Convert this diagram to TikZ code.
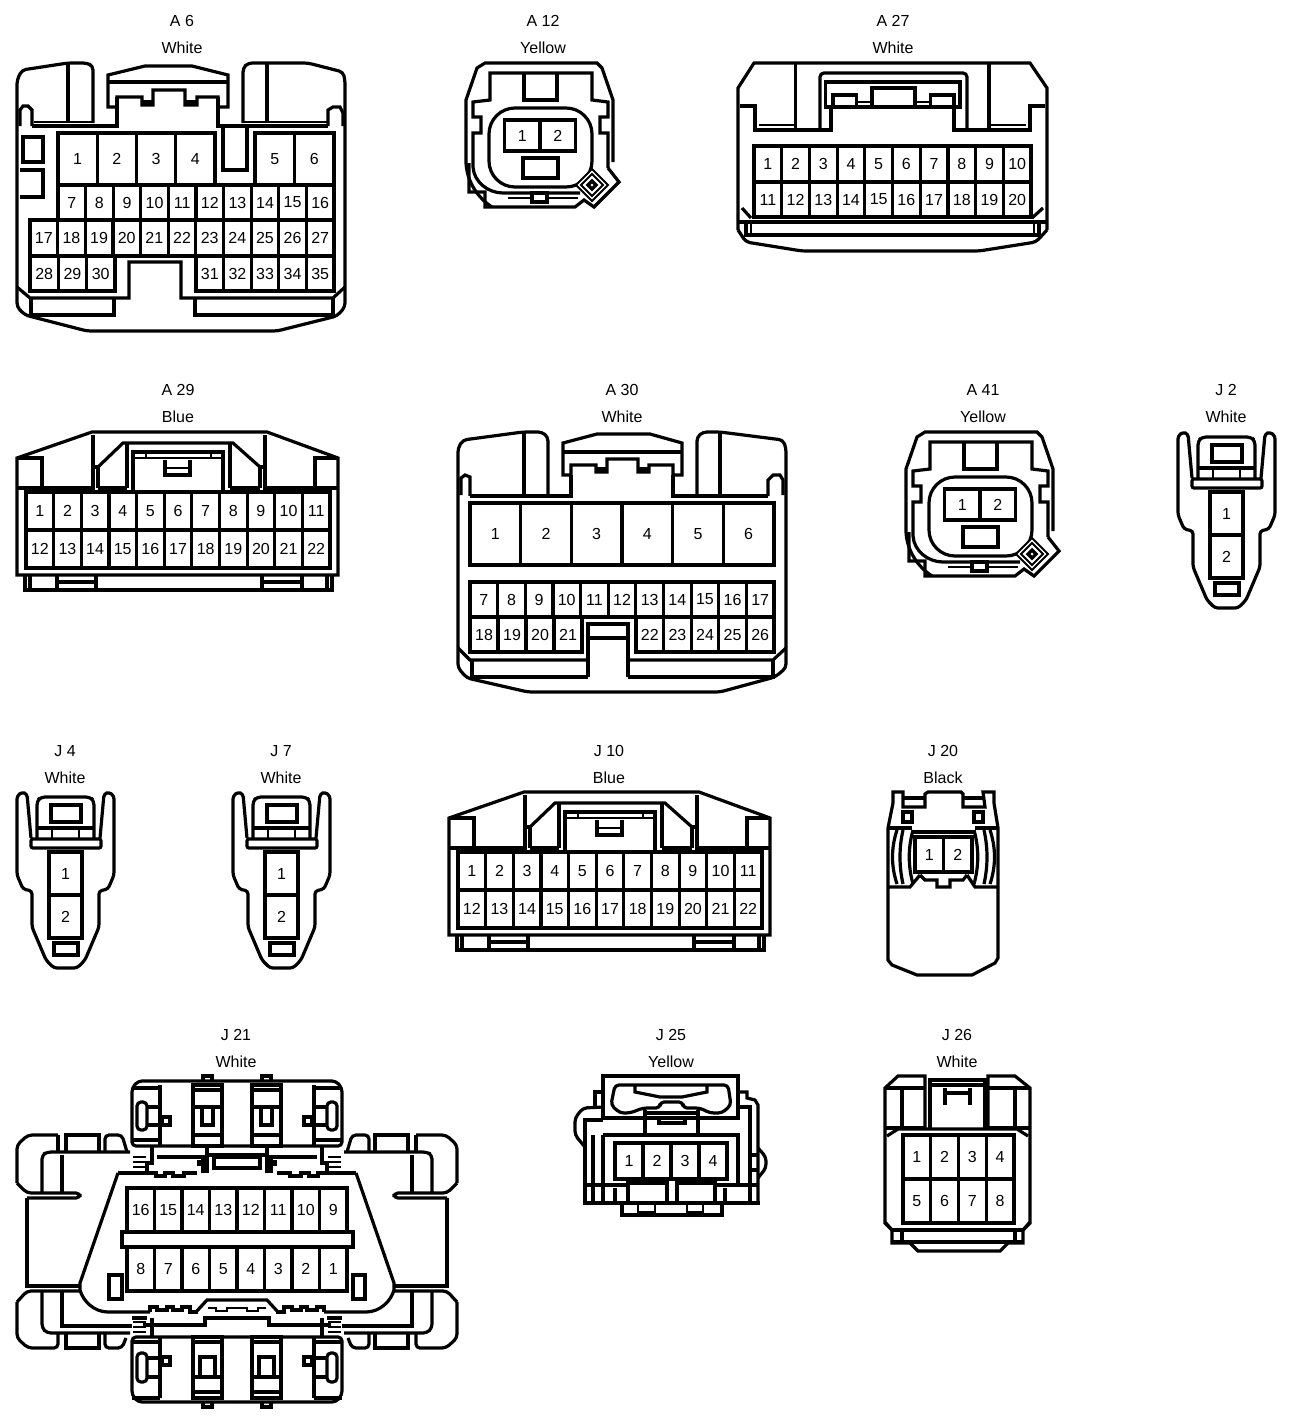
\documentclass[tikz,border=0pt]{standalone}
\usepackage{fontspec}
\setmainfont{Liberation Sans}
\usetikzlibrary{positioning}
\tikzstyle{edge} = [line width = 3.2pt, miter limit = 2]
\tikzstyle{thin edge} = [line width = 2pt, miter limit = 2]
\tikzstyle{round edge} = [edge, rounded corners = 4pt]
\tikzstyle{pin label} = [inner sep = 0, font = \fontsize{16}{16}\selectfont]
\tikzstyle{title} = [inner sep = 0, font = \fontsize{16}{16}\selectfont]

\newcommand{\connlabel}[5]{
    \node [title] (#1name) at (#2, {#3 + 1}) {#4};
    \node [title, below = 27pt of #1name.center, anchor = center] (#1col) {#5};
}
\newcommand{\pinrow}[6]{
    \foreach \b [count = \k from 0] in {#6}
    {
        \pgfmathsetmacro{\xl}{#4 + \k * #5}
        \pgfmathsetmacro{\xr}{#4 + (\k + 1) * #5}
        \draw [edge] (\xl, #2) rectangle (\xr, #3)
            node [midway, pin label] (#1p\b) {\b};
    }
}
\newcommand{\ovalbody}[1]{
    \draw [edge] (613, 162) -- (613, 100) -- (602, 68) -- (597, 63) -- (485, 63) -- (477, 68) -- (466, 100) -- (466, 163)
        .. controls (467, 182) and (478, 198) .. (492, 207);
    \draw [edge] (469, 163) -- (469, 192) -- (485, 192) -- (485, 207) -- (575, 207) -- (584, 200) -- (594, 207)
        -- (619, 182) -- (608, 168);
    \draw [edge] (608, 168) -- (608, 133) -- (600, 133) -- (600, 117) -- (608, 117) -- (608, 102) -- (592, 100)
        -- (592, 73) -- (490, 73) -- (490, 100) -- (473, 102) -- (473, 117) -- (481, 117) -- (481, 133) -- (473, 133) -- (473, 167)
        .. controls (474, 182) and (488, 193) .. (503, 193) -- (580, 193);
    \draw [thin edge] (508, 198) -- (578, 198);
    \draw [edge] (524, 73) -- (524, 100) -- (557, 100) -- (557, 73);
    \draw [edge, rounded corners = 26pt] (489, 108) rectangle (592, 187);
    \draw [edge, fill = white] (532, 193) rectangle (547, 202);
    \draw [edge] (523, 158) rectangle (558, 178);
    \draw [thin edge, fill = white] (592, 169) -- (608, 185) -- (592, 201) -- (576, 185) -- cycle;
    \draw [thin edge] (592, 174) -- (603, 185) -- (592, 196) -- (581, 185) -- cycle;
    \draw [edge] (592, 181) -- (596, 185) -- (592, 189) -- (588, 185) -- cycle;
    \pinrow{#1}{120}{151}{504.5}{35.5}{1, 2}
}
\newcommand{\latchbody}[1]{
    \draw [edge, rounded corners = 3pt] (1192, 478) -- (1188, 434) -- (1183, 432) -- (1178, 436) -- (1178, 515)
        -- (1184, 529) -- (1193, 531) -- (1193, 567) -- (1207, 600) -- (1215, 608) -- (1238, 608) -- (1246, 600)
        -- (1260, 567) -- (1260, 531) -- (1269, 529) -- (1275, 515) -- (1275, 436) -- (1270, 432) -- (1265, 434) -- (1261, 478);
    \draw [round edge] (1198, 478) -- (1198, 441) -- (1202, 437) -- (1251, 437) -- (1255, 441) -- (1255, 478);
    \draw [edge, rounded corners = 2pt] (1192, 479) -- (1192, 488) -- (1262, 488) -- (1262, 479) -- cycle;
    \draw [edge] (1198, 468) -- (1255, 468);
    \draw [edge] (1212, 445) rectangle (1242, 462);
    \draw [thin edge] (1213, 470) -- (1213, 479);
    \draw [thin edge] (1240, 470) -- (1240, 479);
    \draw [edge] (1215, 583) rectangle (1239, 595);
    \draw [edge] (1210, 492) rectangle (1243, 535) node [midway, pin label] (#1p1) {1};
    \draw [edge] (1210, 535) rectangle (1243, 578) node [midway, pin label] (#1p2) {2};
}
\newcommand{\slotbody}[1]{
    \draw [edge] (17, 575) -- (17, 458) -- (92, 432) -- (267, 432) -- (338, 458) -- (338, 575) -- cycle;
    \draw [edge] (17, 458) -- (42, 458) -- (42, 488);
    \draw [edge] (338, 458) -- (315, 458) -- (315, 488);
    \draw [edge] (17, 488) -- (93, 488) -- (93, 435);
    \draw [edge] (338, 488) -- (265, 488) -- (265, 435);
    \draw [edge] (98, 488) -- (98, 467) -- (93, 467);
    \draw [edge] (260, 488) -- (260, 467) -- (265, 467);
    \draw [edge] (98, 467) -- (123, 443) -- (233, 443) -- (260, 467);
    \draw [edge] (127, 443) -- (127, 488);
    \draw [edge] (230, 443) -- (230, 488);
    \draw [edge] (98, 488) -- (127, 488);
    \draw [edge] (230, 488) -- (260, 488);
    \draw [edge] (133, 490) -- (133, 452) -- (223, 452) -- (223, 490);
    \draw [thin edge] (133, 458) -- (223, 458);
    \draw [thin edge] (146, 452) -- (146, 458);
    \draw [thin edge] (211, 452) -- (211, 458);
    \draw [edge] (165, 460) -- (165, 475) -- (190, 475) -- (190, 460);
    \draw [thin edge] (165, 468) -- (190, 468);
    \pinrow{#1}{492}{530}{26}{27.64}{1, 2, 3, 4, 5, 6, 7, 8, 9, 10, 11}
    \pinrow{#1}{530}{568}{26}{27.64}{12, 13, 14, 15, 16, 17, 18, 19, 20, 21, 22}
    \draw [edge] (25, 575) -- (25, 590) -- (332, 590) -- (332, 575);
    \draw [edge] (30, 575) -- (30, 590);
    \draw [edge] (327, 575) -- (327, 590);
    \foreach \x in {57, 96, 262, 302}
    {
        \draw [edge] (\x, 575) -- (\x, 590);
    }
    \draw [edge] (57, 582) -- (96, 582);
    \draw [edge] (262, 582) -- (302, 582);
}
\newcommand{\obdside}{
    \draw [round edge] (17, 1183) -- (17, 1145) -- (28, 1135) -- (58, 1135);
    \draw [round edge] (17, 1183) -- (27, 1193) -- (80, 1193) -- (80, 1198) -- (27, 1198);
    \draw [edge] (27, 1198) -- (27, 1286) -- (80, 1286);
    \draw [round edge] (42, 1192) -- (42, 1155) -- (47, 1152) -- (130, 1152);
    \draw [edge] (62, 1155) -- (62, 1192);
    \draw [edge] (58, 1135) -- (58, 1152);
    \draw [edge] (66, 1152) -- (66, 1135) -- (99, 1135) -- (99, 1152);
    \draw [round edge] (105, 1152) -- (105, 1135) -- (122, 1135) -- (127, 1152);
    \draw [round edge] (17, 1302) -- (27, 1291) -- (80, 1291);
    \draw [round edge] (42, 1291) -- (42, 1328) -- (47, 1333) -- (130, 1333);
    \draw [edge] (62, 1291) -- (62, 1326) -- (132, 1326);
    \draw [round edge] (17, 1302) -- (17, 1338) -- (28, 1348) -- (58, 1348) -- (58, 1333);
    \draw [edge] (66, 1333) -- (66, 1348) -- (99, 1348) -- (99, 1333);
    \draw [round edge] (105, 1333) -- (105, 1348) -- (122, 1348) -- (126, 1338);
    % top block
    \draw [round edge] (237, 1081) -- (138, 1081) -- (132, 1088) -- (132, 1146) -- (237, 1146);
    \draw [edge] (203, 1081) -- (203, 1076) -- (212, 1076) -- (212, 1081);
    \draw [edge] (132, 1088) -- (160, 1088);
    \draw [edge] (160, 1085) -- (160, 1146);
    \draw [edge] (132, 1140) -- (160, 1140);
    \draw [edge, rounded corners = 4pt] (137, 1102) rectangle (147, 1130);
    \draw [edge] (147, 1107) -- (160, 1107);
    \draw [edge] (147, 1125) -- (160, 1125);
    \draw [edge] (162, 1117) rectangle (170, 1125);
    \draw [edge] (193, 1085) rectangle (222, 1146);
    \draw [edge] (193, 1090) -- (222, 1090);
    \draw [edge] (193, 1107) -- (222, 1107);
    \draw [edge] (193, 1135) -- (222, 1135);
    \draw [edge] (202, 1107) -- (202, 1125) -- (213, 1125) -- (213, 1107);
    % link down to the plug
    \draw [edge] (207, 1146) -- (207, 1173);
    \draw [edge] (207, 1155) -- (237, 1155);
    \draw [edge] (214, 1157) -- (237, 1157);
    \draw [edge] (214, 1157) -- (214, 1168) -- (237, 1168);
    \draw [edge] (157, 1157) -- (203, 1157) -- (203, 1173);
    \draw [edge] (199, 1160) -- (199, 1166);
    \draw [edge] (152, 1146) -- (152, 1163) -- (147, 1163) -- (147, 1173);
    \foreach \y in {1157, 1162, 1167}
    {
        \draw [thin edge] (133, \y) -- (146, \y);
    }
    \draw [edge] (147, 1173) -- (156, 1173) -- (156, 1176) -- (165, 1176) -- (165, 1173) -- (173, 1173) -- (173, 1176)
        -- (184, 1176) -- (184, 1173) -- (197, 1173);
    \draw [edge] (118, 1173) -- (147, 1173);
    \draw [edge] (118, 1173) -- (80, 1283) -- (80, 1290)
        .. controls (83, 1301) and (94, 1312) .. (108, 1312) -- (150, 1312);
    % bottom block
    \draw [round edge] (237, 1402) -- (138, 1402) -- (132, 1395) -- (132, 1337) -- (237, 1337);
    \draw [edge] (203, 1402) -- (203, 1407) -- (212, 1407) -- (212, 1402);
    \draw [edge] (160, 1337) -- (160, 1398);
    \draw [edge] (132, 1342) -- (160, 1342);
    \draw [edge] (132, 1398) -- (160, 1398);
    \draw [edge, rounded corners = 4pt] (137, 1353) rectangle (147, 1382);
    \draw [edge] (147, 1377) -- (160, 1377);
    \draw [edge] (147, 1358) -- (160, 1358);
    \draw [edge] (162, 1357) rectangle (170, 1365);
    \draw [edge] (193, 1337) rectangle (222, 1398);
    \draw [edge] (193, 1342) -- (222, 1342);
    \draw [edge] (193, 1377) -- (222, 1377);
    \draw [edge] (193, 1392) -- (222, 1392);
    \draw [edge] (200, 1377) -- (200, 1357) -- (215, 1357) -- (215, 1377);
    \draw [edge] (143, 1325) -- (205, 1325) -- (205, 1318) -- (237, 1318);
    \draw [edge] (152, 1318) -- (152, 1337);
    \draw [edge] (132, 1318) -- (147, 1318);
    \foreach \y in {1322, 1327, 1332}
    {
        \draw [thin edge] (133, \y) -- (146, \y);
    }
    \draw [edge] (150, 1312) -- (150, 1307) -- (157, 1307) -- (157, 1310) -- (167, 1310) -- (167, 1307) -- (173, 1307)
        -- (173, 1310) -- (182, 1310) -- (182, 1307) -- (190, 1307) -- (190, 1312) -- (198, 1312);
    \draw [edge] (196, 1312) -- (207, 1300) -- (237, 1300);
    \draw [thin edge] (208, 1308) -- (216, 1308) -- (216, 1311) -- (227, 1311) -- (227, 1308) -- (237, 1308);
}

\begin{document}
\begin{tikzpicture}[x = 1pt, y = -1pt]
    \useasboundingbox (0, 0) rectangle (1312, 1422);

    \connlabel{a6}{182}{20}{A 6}{White}
    \connlabel{a12}{543}{20}{A 12}{Yellow}
    \connlabel{a27}{893}{20}{A 27}{White}
    \connlabel{a29}{178}{389}{A 29}{Blue}
    \connlabel{a30}{622}{389}{A 30}{White}
    \connlabel{a41}{983}{389}{A 41}{Yellow}
    \connlabel{j2}{1226}{389}{J 2}{White}
    \connlabel{j4}{65}{750}{J 4}{White}
    \connlabel{j7}{281}{750}{J 7}{White}
    \connlabel{j10}{609}{750}{J 10}{Blue}
    \connlabel{j20}{943}{750}{J 20}{Black}
    \connlabel{j21}{236}{1034}{J 21}{White}
    \connlabel{j25}{671}{1034}{J 25}{Yellow}
    \connlabel{j26}{957}{1034}{J 26}{White}

    % A 6
    \draw [round edge] (93, 123) -- (93, 66) -- (87, 63) -- (68, 63) -- (22, 70) -- (17, 80) -- (17, 307) -- (25, 315)
        -- (87, 331) -- (277, 331) -- (337, 316) -- (345, 307) -- (345, 80) -- (343, 72) -- (308, 63) -- (248, 63) -- (243, 68) -- (243, 123);
    \draw [edge] (68, 63) -- (68, 122);
    \draw [edge] (267, 63) -- (267, 122);
    \draw [thin edge] (34, 122) -- (93, 122);
    \draw [thin edge] (243, 122) -- (328, 122);
    \draw [edge] (32, 126) -- (117, 126) -- (117, 97);
    \draw [edge] (218, 97) -- (218, 126) -- (328, 126);
    \draw [edge] (32, 126) -- (32, 110) -- (28, 106) -- (23, 106) -- (20, 110) -- (20, 126);
    \draw [edge] (328, 126) -- (328, 110) -- (333, 107) -- (340, 107) -- (343, 113) -- (343, 126);
    \draw [edge] (108, 107) -- (108, 75) -- (145, 66) -- (192, 66) -- (228, 75) -- (228, 107) -- (218, 107) -- (218, 97)
        -- (197, 97) -- (197, 105) -- (185, 105) -- (185, 90) -- (153, 90) -- (153, 105) -- (142, 105) -- (142, 97)
        -- (117, 97) -- (117, 107) -- cycle;
    \draw [edge] (108, 82) -- (228, 82);
    \draw [edge] (142, 102) -- (153, 102);
    \draw [edge] (185, 102) -- (197, 102);
    \draw [edge] (223, 126) -- (223, 170) -- (247, 170) -- (247, 126);
    \draw [edge] (23, 137) rectangle (43, 162);
    \draw [edge] (20, 170) -- (43, 170) -- (43, 197) -- (20, 197);
    \pinrow{a6}{133}{185}{58}{39.25}{1, 2, 3, 4}
    \pinrow{a6}{133}{185}{255}{39.5}{5, 6}
    \pinrow{a6}{185}{220}{58}{27.6}{7, 8, 9, 10, 11, 12, 13, 14, 15, 16}
    \pinrow{a6}{220}{256}{30}{27.64}{17, 18, 19, 20, 21, 22, 23, 24, 25, 26, 27}
    \pinrow{a6}{256}{291}{30}{28.3}{28, 29, 30}
    \pinrow{a6}{256}{291}{196}{27.6}{31, 32, 33, 34, 35}
    \draw [edge] (17, 287) -- (30, 298) -- (129, 298) -- (129, 262) -- (181, 262) -- (181, 298) -- (333, 298) -- (345, 287);
    \draw [edge] (31, 298) -- (31, 315) -- (114, 315) -- (114, 298);
    \draw [edge] (195, 298) -- (195, 315) -- (333, 315) -- (333, 298);

    % A 12
    \ovalbody{a12}

    % A 27
    \draw [edge] (738, 230) -- (738, 88) -- (754, 63) -- (1030, 63) -- (1047, 88) -- (1047, 230);
    \draw [round edge] (738, 230) -- (746, 242) -- (802, 251) -- (979, 251) -- (1036, 242) -- (1047, 230);
    \draw [edge] (740, 106) -- (755, 106) -- (755, 130) -- (831, 130) -- (831, 107);
    \draw [edge] (1045, 106) -- (1030, 106) -- (1030, 130) -- (954, 130) -- (954, 107);
    \draw [edge] (795.5, 63) -- (795.5, 128);
    \draw [edge] (989, 63) -- (989, 128);
    \draw [thin edge] (759, 125) -- (794, 125);
    \draw [thin edge] (991, 125) -- (1026, 125);
    \draw [round edge] (820, 128) -- (820, 73) -- (967, 73) -- (967, 128);
    \draw [edge] (825.5, 82) rectangle (960, 107);
    \draw [edge] (833, 107) -- (833, 95) -- (856.5, 95) -- (856.5, 107);
    \draw [edge] (872, 107) -- (872, 88) -- (915, 88) -- (915, 107);
    \draw [edge] (930.5, 107) -- (930.5, 95) -- (954, 95) -- (954, 107);
    \draw [thin edge] (856, 102) -- (872, 102);
    \draw [thin edge] (915, 102) -- (930, 102);
    \pinrow{a27}{146}{182}{754}{27.7}{1, 2, 3, 4, 5, 6, 7, 8, 9, 10}
    \pinrow{a27}{182}{217}{754}{27.7}{11, 12, 13, 14, 15, 16, 17, 18, 19, 20}
    \draw [edge] (738, 222) -- (1047, 222);
    \draw [edge] (746, 222) -- (746, 235) -- (1039, 235) -- (1039, 222);
    \draw [thin edge] (751, 222) -- (751, 235);
    \draw [thin edge] (1034, 222) -- (1034, 235);
    \draw [edge] (742, 208) -- (751, 218);
    \draw [edge] (1043, 208) -- (1032, 218);

    % A 29
    \slotbody{a29}

    % A 30
    \draw [round edge] (548, 495) -- (548, 437) -- (542, 432) -- (523, 432) -- (463, 440) -- (458, 448) -- (458, 668) -- (467, 678)
        -- (528, 692) -- (720, 692) -- (775, 677) -- (786, 668) -- (786, 448) -- (783, 440) -- (720, 432) -- (703, 432) -- (697, 437) -- (697, 495);
    \draw [edge] (524, 432) -- (524, 495);
    \draw [edge] (720, 432) -- (720, 495);
    \draw [edge] (563, 475) -- (563, 443) -- (597, 434) -- (650, 434) -- (682, 443) -- (682, 475) -- (673, 475) -- (673, 465)
        -- (649, 465) -- (649, 472) -- (638, 472) -- (638, 459) -- (607, 459) -- (607, 472) -- (596, 472) -- (596, 465)
        -- (571, 465) -- (571, 475) -- cycle;
    \draw [edge] (563, 452) -- (682, 452);
    \draw [edge] (596, 469) -- (607, 469);
    \draw [edge] (638, 469) -- (649, 469);
    \draw [edge] (470, 496) -- (571, 496) -- (571, 475);
    \draw [edge] (673, 475) -- (673, 496) -- (768, 496);
    \draw [edge] (470, 496) -- (470, 477) -- (465, 475) -- (461, 478) -- (461, 495);
    \draw [edge] (768, 496) -- (768, 480) -- (773, 475) -- (780, 475) -- (783, 480) -- (783, 495);
    \pinrow{a30}{503}{565}{470}{50.67}{1, 2, 3, 4, 5, 6}
    \pinrow{a30}{582}{617}{470}{27.64}{7, 8, 9, 10, 11, 12, 13, 14, 15, 16, 17}
    \pinrow{a30}{617}{652}{470}{28}{18, 19, 20, 21}
    \pinrow{a30}{617}{652}{636}{27.6}{22, 23, 24, 25, 26}
    \draw [edge] (588, 677) -- (588, 624) -- (628, 624) -- (628, 677);
    \draw [edge] (588, 638) -- (628, 638);
    \draw [edge] (458, 648) -- (470, 660) -- (588, 660);
    \draw [edge] (786, 648) -- (773, 660) -- (628, 660);
    \draw [edge] (472, 660) -- (472, 677) -- (588, 677);
    \draw [edge] (773, 660) -- (773, 677) -- (628, 677);

    % A 41
    \begin{scope}[shift = {(440, 369)}]
        \ovalbody{a41}
    \end{scope}

    % J 2, J 4, J 7
    \latchbody{j2}
    \begin{scope}[shift = {(-1161, 360)}]
        \latchbody{j4}
    \end{scope}
    \begin{scope}[shift = {(-945, 360)}]
        \latchbody{j7}
    \end{scope}

    % J 10
    \begin{scope}[shift = {(432, 360)}]
        \slotbody{j10}
    \end{scope}

    % J 20
    \draw [edge] (888, 828) -- (893, 803) -- (893, 792) -- (903, 792) -- (903, 807) -- (925, 807) -- (925, 794) -- (928, 792)
        -- (961, 792) -- (963, 794) -- (963, 807) -- (985, 807) -- (983, 792) -- (994, 792) -- (994, 803) -- (998, 828);
    \draw [edge] (925, 798) -- (903, 798);
    \draw [edge] (963, 798) -- (983, 798);
    \draw [edge] (888, 828) -- (888, 960) -- (892, 965) -- (917, 975) -- (972, 975) -- (995, 963) -- (998, 958) -- (998, 828);
    \draw [edge] (903, 812) rectangle (912, 822);
    \draw [edge] (974, 812) rectangle (983, 822);
    \draw [edge] (888, 828) -- (912, 828);
    \draw [edge] (975, 828) -- (998, 828);
    \draw [edge] (912, 832) -- (975, 832);
    \foreach \x/\c in {897/891, 903/899, 913/908}
    {
        \draw [edge] (\x, 830) .. controls (\c, 848) and (\c, 866) .. (\x, 884);
        \pgfmathsetmacro{\xm}{1887 - \x}
        \pgfmathsetmacro{\cm}{1887 - \c}
        \draw [edge] (\xm, 830) .. controls (\cm, 848) and (\cm, 866) .. (\xm, 884);
    }
    \pinrow{j20}{837}{872}{915}{28.5}{1, 2}
    \draw [edge] (920, 875) -- (925, 880) -- (937, 880) -- (937, 887) -- (950, 887) -- (950, 880) -- (963, 880) -- (967, 875);
    \draw [edge] (888, 887) -- (910, 887) -- (920, 875);
    \draw [edge] (998, 887) -- (975, 887) -- (967, 875);

    % J 21
    \obdside
    \begin{scope}[shift = {(474, 0)}, xscale = -1]
        \obdside
    \end{scope}
    \pinrow{j21}{1188}{1232}{127}{27.5}{16, 15, 14, 13, 12, 11, 10, 9}
    \pinrow{j21}{1247}{1291}{127}{27.5}{8, 7, 6, 5, 4, 3, 2, 1}
    \draw [edge, fill = white] (122, 1232) rectangle (353, 1247);
    \draw [edge] (109, 1275) rectangle (122, 1299);
    \draw [edge] (353, 1275) rectangle (365, 1299);

    % J 25
    \draw [edge] (603, 1076) rectangle (738, 1118);
    \draw [round edge] (615, 1085) -- (728, 1085) -- (731, 1105) -- (722, 1113) -- (710, 1113) -- (700, 1108) -- (683, 1108) -- (683, 1102)
        -- (660, 1102) -- (660, 1108) -- (643, 1108) -- (630, 1113) -- (620, 1113) -- (611, 1105) -- cycle;
    \draw [edge] (635, 1086) -- (635, 1092) -- (645, 1094) -- (660, 1097) -- (682, 1097) -- (697, 1094) -- (707, 1092) -- (707, 1086);
    \draw [edge] (645, 1110) -- (645, 1135);
    \draw [edge] (698, 1110) -- (698, 1135);
    \draw [edge] (645, 1113) -- (698, 1113);
    \draw [edge] (659, 1118) -- (659, 1123) -- (685, 1123) -- (685, 1118);
    \draw [edge] (603, 1092) -- (595, 1092) -- (595, 1107);
    \draw [round edge] (603, 1107) -- (583, 1108) -- (575, 1118) -- (575, 1135) -- (585, 1147);
    \draw [edge] (603, 1120) -- (585, 1120) -- (585, 1203);
    \draw [edge] (593, 1135) -- (593, 1203);
    \draw [edge] (603, 1135) -- (738, 1135) -- (738, 1185);
    \draw [edge] (603, 1135) -- (603, 1203);
    \draw [edge] (738, 1092) -- (747, 1092) -- (747, 1098) -- (755, 1100) -- (758, 1105) -- (758, 1203);
    \draw [edge] (738, 1107) -- (750, 1107) -- (750, 1203);
    \draw [round edge] (758, 1148) -- (766, 1157) -- (766, 1168) -- (758, 1178);
    \draw [edge] (750, 1155) -- (758, 1155);
    \draw [edge] (750, 1170) -- (758, 1170);
    \pinrow{j25}{1143}{1179}{615}{28}{1, 2, 3, 4}
    \draw [edge] (583, 1203) -- (760, 1203);
    \draw [edge] (585, 1185) -- (627, 1185);
    \draw [edge] (717, 1185) -- (758, 1185);
    \draw [edge] (628, 1183) rectangle (667, 1203);
    \draw [edge] (677, 1183) rectangle (715, 1203);
    \foreach \x in {615, 725}
    {
        \draw [edge] (\x, 1188) -- (\x, 1203);
    }
    \draw [edge] (622, 1203) -- (622, 1215) -- (722, 1215) -- (722, 1203);
    \draw [thin edge] (638, 1203) -- (638, 1212) -- (655, 1212) -- (655, 1203);
    \draw [thin edge] (687, 1203) -- (687, 1212) -- (703, 1212) -- (703, 1203);

    % J 26
    \draw [edge] (925, 1128) -- (925, 1076) -- (898, 1076) -- (885, 1088) -- (885, 1223) -- (892, 1230) -- (892, 1243) -- (910, 1243)
        -- (918, 1251) -- (1000, 1251) -- (1008, 1243) -- (1023, 1243) -- (1023, 1230) -- (1030, 1223) -- (1030, 1088)
        -- (1015, 1076) -- (988, 1076) -- (988, 1128);
    \draw [edge] (885, 1088) -- (925, 1088);
    \draw [edge] (988, 1088) -- (1030, 1088);
    \draw [edge] (902, 1088) -- (902, 1128);
    \draw [edge] (1015, 1088) -- (1015, 1128);
    \draw [edge] (930, 1128) -- (930, 1080) -- (985, 1080) -- (985, 1128);
    \draw [edge] (930, 1085) -- (985, 1085);
    \draw [edge] (945, 1088) -- (945, 1105);
    \draw [edge] (970, 1088) -- (970, 1105);
    \draw [edge] (945, 1093) -- (970, 1093);
    \draw [edge] (885, 1128) -- (925, 1128);
    \draw [edge] (988, 1128) -- (1030, 1128);
    \draw [edge] (887, 1136) -- (898, 1129) -- (1017, 1129) -- (1028, 1136);
    \pinrow{j26}{1135}{1179}{903}{27.75}{1, 2, 3, 4}
    \pinrow{j26}{1179}{1223}{903}{27.75}{5, 6, 7, 8}
    \draw [edge] (892, 1230) -- (1023, 1230);
    \draw [edge] (885, 1222) -- (892, 1230);
    \draw [edge] (1030, 1222) -- (1023, 1230);
    \draw [edge] (902, 1230) -- (902, 1243);
    \draw [edge] (1015, 1230) -- (1015, 1243);
    \draw [edge] (892, 1242) -- (1023, 1242);
\end{tikzpicture}
\end{document}
